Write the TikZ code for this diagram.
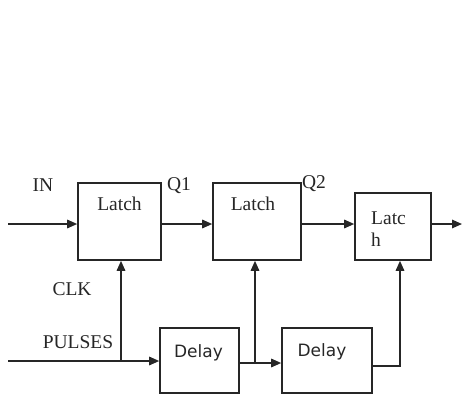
\documentclass[tikz,border=0pt]{standalone}
\usepackage{fontspec}
\setmainfont{Liberation Serif}
\newfontfamily\delayfont{DejaVu Sans}
\usetikzlibrary{arrows.meta}
\begin{document}
\begin{tikzpicture}[x=1pt,y=-1pt,
  blk/.style={draw=black!85,line width=1.6pt,inner sep=0pt,minimum width=#1},
  lbl/.style={inner sep=0pt,font=\fontsize{19.5}{22}\selectfont,text=black!85},
  dlbl/.style={inner sep=0pt,font=\delayfont\fontsize{17}{19}\selectfont,text=black!85},
  wire/.style={draw=black!85,line width=1.6pt},
  arr/.style={wire,-{Triangle[length=10pt,width=8.5pt]}}]
\useasboundingbox (0,0) rectangle (465,397);
% blocks
\node[blk=83pt,minimum height=77pt] (L1) at (119.5,221.5) {};
\node[blk=88pt,minimum height=77pt] (L2) at (257,221.5) {};
\node[blk=76pt,minimum height=67pt] (L3) at (393,226.5) {};
\node[blk=79pt,minimum height=65pt] (D1) at (199.5,360.5) {};
\node[blk=90pt,minimum height=65pt] (D2) at (327,360.5) {};
% texts
\node[lbl] (tL1) at (119.5,204) {Latch};
\node[lbl] (tL2) at (253,204) {Latch};
\node[lbl,anchor=west,align=left] (tL3) at (371,229) {Latc\\h};
\node[dlbl] (tD1) at (198.5,353) {Delay};
\node[dlbl] (tD2) at (322,352) {Delay};
\node[lbl] (tIN) at (43,185) {IN};
\node[lbl] (tQ1) at (179,186) {Q1};
\node[lbl] (tQ2) at (314,184) {Q2};
\node[lbl] (tCLK) at (72,289) {CLK};
\node[lbl] (tPUL) at (78,342) {PULSES};
% coordinates
\coordinate (in) at (8,224);
\coordinate (out) at (462,224);
\coordinate (pul) at (8,361);
\coordinate (b1) at (121,361);
\coordinate (m) at (255,363);
\coordinate (c3) at (400,366);
% connectors
\draw[arr] (in) -- (in -| L1.west);
\draw[arr] (L1.east |- in) -- (L2.west |- in);
\draw[arr] (L2.east |- in) -- (L3.west |- in);
\draw[arr] (L3.east |- in) -- (out);
\draw[arr] (pul) -- (pul -| D1.west);
\draw[arr] (b1) -- (b1 |- L1.south);
\draw[arr] (D1.east |- m) -- (D2.west |- m);
\draw[arr] (m) -- (m |- L2.south);
\draw[arr] (D2.east |- c3) -- (c3) -- (c3 |- L3.south);
\end{tikzpicture}
\end{document}
